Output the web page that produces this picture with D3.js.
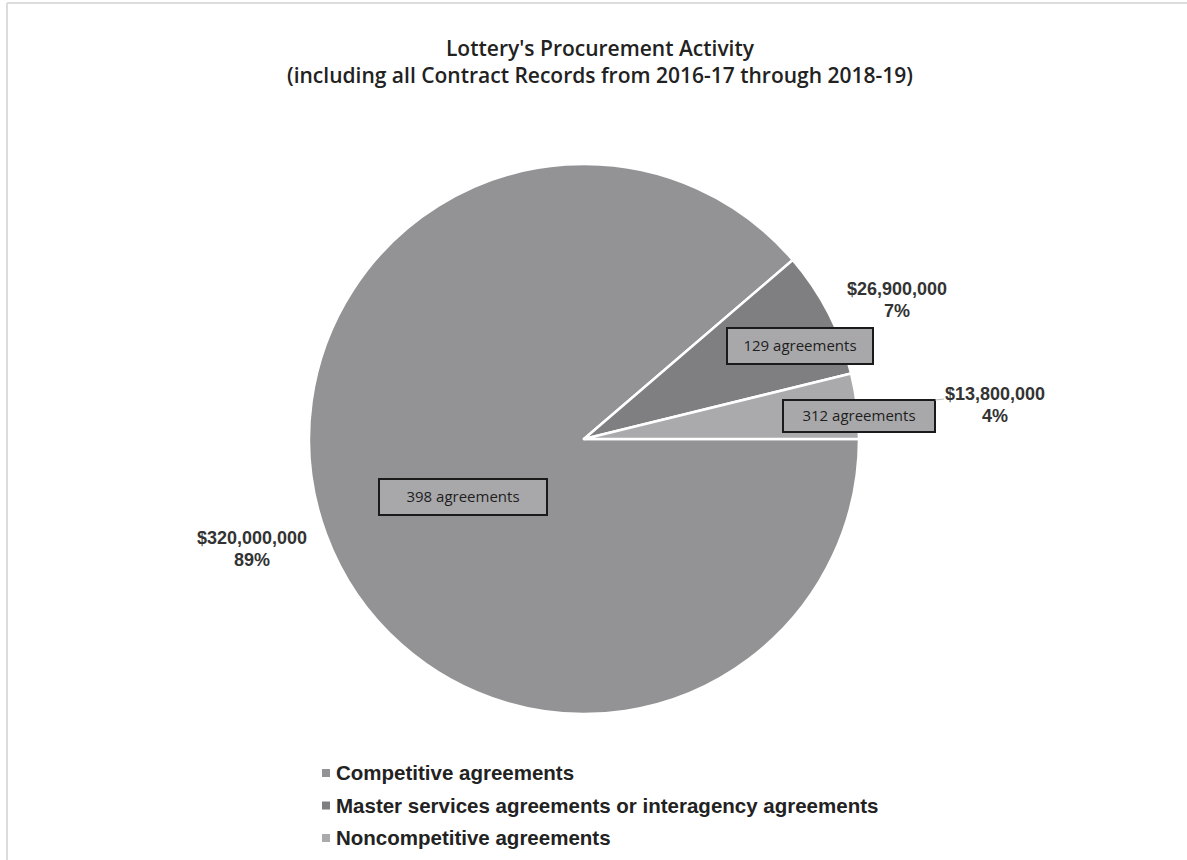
<!DOCTYPE html>
<html><head><meta charset="utf-8">
<script src="https://cdn.jsdelivr.net/npm/d3@7"></script>
<style>body{margin:0;background:#fff}</style>
</head><body>
<svg id="chart" width="1187" height="860"></svg>
<script>
const categories = ["Competitive agreements", "Master services agreements or interagency agreements", "Noncompetitive agreements"];
const amounts = [320000000, 26900000, 13800000];
const amountLabels = ["$320,000,000", "$26,900,000", "$13,800,000"];
const pctLabels = ["89%", "7%", "4%"];
const countLabels = ["398 agreements", "129 agreements", "312 agreements"];
const colors = ["#939396", "#7f7f81", "#aaaaac"];

const svg = d3.select("#chart");
// frame
svg.append("line").attr("x1",7).attr("y1",3).attr("x2",1187).attr("y2",3).attr("stroke","#dcdcdc").attr("stroke-width",2);
svg.append("line").attr("x1",7).attr("y1",3).attr("x2",7).attr("y2",860).attr("stroke","#dcdcdc").attr("stroke-width",2);

// title
const title = svg.append("text").attr("text-anchor","middle").attr("font-family","'Open Sans', sans-serif")
  .attr("font-size",21).attr("font-weight",600).attr("fill","#222");
title.append("tspan").attr("x",600).attr("y",56).text("Lottery's Procurement Activity");
title.append("tspan").attr("x",600).attr("y",83).text("(including all Contract Records from 2016-17 through 2018-19)");

const cx = 584, cy = 439, R = 275;
const data = categories.map((c,i)=>({cat:c, value:amounts[i], i}));
const pie = d3.pie().value(d=>d.value).sort(null).startAngle(Math.PI/2).endAngle(Math.PI/2 + 2*Math.PI);
const arcs = pie(data);
const arc = d3.arc().innerRadius(0).outerRadius(R);
const g = svg.append("g").attr("transform",`translate(${cx},${cy})`);
g.selectAll("path").data(arcs).join("path")
  .attr("d",arc).attr("fill",d=>colors[d.data.i]).attr("stroke","#fff").attr("stroke-width",2.5).attr("stroke-linejoin","round");

// count boxes
const boxSpecs = [
  {x:463, y:497, w:168, h:36},
  {x:800, y:346, w:146, h:36},
  {x:859, y:416, w:152, h:32}
];
arcs.forEach((a,k)=>{
  const s = boxSpecs[k];
  const bg = svg.append("g").attr("transform",`translate(${s.x},${s.y})`);
  bg.append("rect").attr("x",-s.w/2).attr("y",-s.h/2).attr("width",s.w).attr("height",s.h)
    .attr("fill","#a8a8aa").attr("stroke","#1a1a1a").attr("stroke-width",2);
  bg.append("text").attr("text-anchor","middle").attr("dy","0.35em")
    .attr("font-family","'Open Sans', sans-serif").attr("font-size",15).attr("fill","#1e1e1e").text(countLabels[k]);
});

// outside labels
const outPos = [[252,537],[897,288],[995,393]];
outPos.forEach((p,k)=>{
  const t = svg.append("text").attr("text-anchor","middle").attr("font-family","'Liberation Sans', Arial, sans-serif")
    .attr("font-size",18).attr("font-weight","bold").attr("fill","#333");
  t.append("tspan").attr("x",p[0]).attr("y",p[1]+7).text(amountLabels[k]);
  t.append("tspan").attr("x",p[0]).attr("y",p[1]+29).text(pctLabels[k]);
});
// leader for small slice
svg.append("line").attr("x1",935).attr("y1",400).attr("x2",944).attr("y2",399).attr("stroke","#bbb").attr("stroke-width",1);

// legend
const leg = svg.append("g");
categories.forEach((c,k)=>{
  const y = 773 + k*32.5;
  leg.append("rect").attr("x",322).attr("y",y-4).attr("width",8).attr("height",8).attr("fill",colors[k]);
  leg.append("text").attr("x",336).attr("y",y).attr("dy","0.35em")
    .attr("font-family","'Liberation Sans', Arial, sans-serif").attr("font-size",20.5).attr("font-weight","bold").attr("fill","#222").text(c);
});
</script>
</body></html>
